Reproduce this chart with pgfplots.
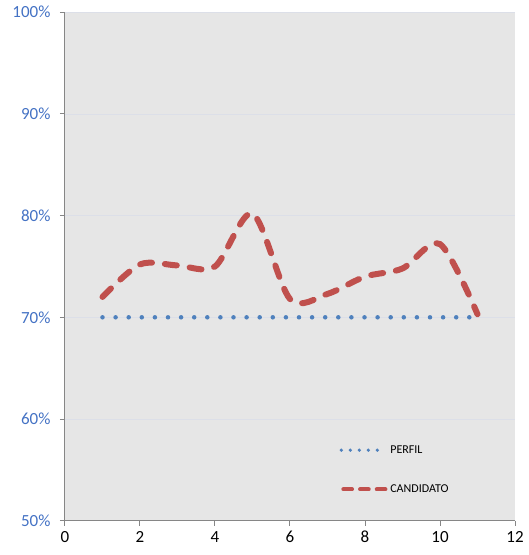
\documentclass[border=0pt]{standalone}
\usepackage{fontspec}
\setmainfont{Carlito}
\usepackage{pgfplots}
\pgfplotsset{compat=1.18}
\definecolor{bgc}{HTML}{E6E6E6}
\definecolor{axisgray}{HTML}{868686}
\definecolor{gridc}{HTML}{DCDFE8}
\definecolor{tickblue}{HTML}{4472C4}
\definecolor{perfil}{HTML}{4F81BD}
\definecolor{cand}{HTML}{C0504D}
\begin{document}
\begin{tikzpicture}
\begin{axis}[
  name=ax,
  scale only axis, width=450pt, height=508.5pt,
  xmin=0, xmax=12, ymin=50, ymax=100,
  xtick={0,2,...,12}, ytick={50,60,...,100},
  yticklabel={\pgfmathprintnumber{\tick}\%},
  axis x line=bottom, axis y line=left,
  axis line style={draw=axisgray, line width=1pt, -},
  tick align=outside, major tick length=5pt,
  tick style={draw=axisgray, line width=1pt},
  ymajorgrids, grid style={draw=gridc, line width=0.7pt},
  axis background/.style={fill=bgc},
  tick label style={font=\fontsize{17}{17}\selectfont},
  yticklabel style={text=tickblue, xshift=-6pt},
  xticklabel style={yshift=-2pt},
  /pgf/number format/assume math mode=true,
  legend style={draw=none, fill=none, at={(0.603,0.156)}, anchor=north west,
    row sep=26pt, font=\fontsize{12}{12}\selectfont},
  legend cell align=left,
]
\addplot[perfil, line width=4.5pt, line cap=round, dash pattern=on 0pt off 13.1pt,
  legend image code/.code={\draw[perfil, line width=3.6pt, line cap=round, dash pattern=on 0pt off 9pt] (0pt,0pt) -- (38pt,0pt);}]
  coordinates {(1,70) (2,70) (3,70) (4,70) (5,70) (6,70) (7,70) (8,70) (9,70) (10,70) (11,70)};
\addlegendentry{PERFIL}
\addplot[cand, line width=6pt, line cap=round, dash pattern=on 12pt off 13pt, smooth, tension=0.5,
  legend image code/.code={\draw[cand, line width=4pt, line cap=round, dash pattern=on 8.7pt off 8pt] (2pt,0pt) -- (45pt,0pt);}]
  coordinates {(1,72.0) (2,75.2) (3,75.1) (4,75.0) (5,80.2) (6,71.8) (7,72.3) (8,74.0) (9,74.8) (10,77.2) (11,70.3)};
\addlegendentry{CANDIDATO}
\end{axis}
\path ([xshift=-65pt,yshift=-34.3pt]ax.south west) rectangle ([xshift=14pt,yshift=12.2pt]ax.north east);
\end{tikzpicture}
\end{document}
